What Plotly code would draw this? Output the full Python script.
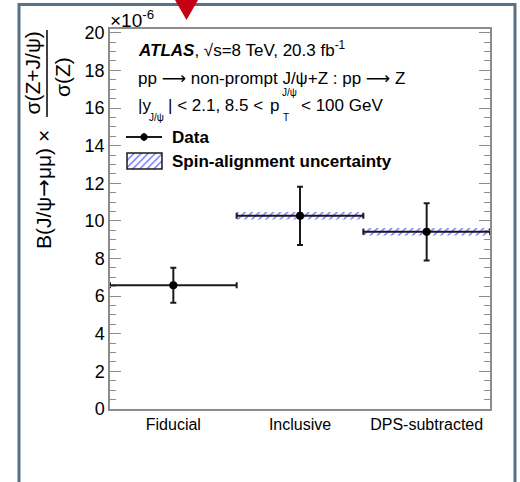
import plotly.graph_objects as go

# Measured ratio B(J/psi->mumu) x sigma(Z+J/psi)/sigma(Z), in units of 1e-6
categories = ["Fiducial", "Inclusive", "DPS-subtracted"]
ratio = [6.58, 10.27, 9.42]
total_err = [0.93, 1.55, 1.52]
# spin-alignment envelope (absent for the fiducial measurement)
spin_err = [0.0, 0.2, 0.2]
y_ticks = [0, 2, 4, 6, 8, 10, 12, 14, 16, 18, 20]

FONT = "Liberation Sans, Arial, Helvetica, sans-serif"
ARROW = '<span style="font-family:DejaVu Sans">→</span>'
LONG_ARROW = '<span style="font-family:DejaVu Sans">⟶</span>'
W, H = 520, 482
L, R, T, B = 110, 490, 29, 409
HATCH = "#6a6aff"


def px(x):
    return (x - L) / (R - L)


def py(y):
    return (B - y) / (B - T)


x_pos = list(range(len(categories)))
fig = go.Figure()

# hatched spin-alignment bands
band_idx = [i for i, e in enumerate(spin_err) if e > 0]
fig.add_trace(go.Bar(
    x=[x_pos[i] for i in band_idx],
    base=[ratio[i] - spin_err[i] for i in band_idx],
    y=[2 * spin_err[i] for i in band_idx],
    width=1.0,
    marker=dict(color="rgba(0,0,0,0)", line=dict(width=0),
                pattern=dict(shape="/", fgcolor=HATCH, size=5,
                             solidity=0.28, fillmode="replace")),
    showlegend=False, hoverinfo="skip",
))

# data points with bin-width horizontal bars and total uncertainty
fig.add_trace(go.Scatter(
    x=x_pos, y=ratio, mode="markers",
    marker=dict(color="black", size=8),
    error_x=dict(type="constant", value=0.5, color="#1a1a1a", thickness=2, width=3),
    error_y=dict(type="data", array=total_err, color="#1a1a1a", thickness=2, width=3),
    showlegend=False, cliponaxis=False,
))

# legend swatches on a pixel-space overlay axis
fig.add_trace(go.Scatter(
    x=[126, 162], y=[137, 137], mode="lines",
    line=dict(color="#1a1a1a", width=2),
    xaxis="x2", yaxis="y2", showlegend=False, hoverinfo="skip",
))
fig.add_trace(go.Scatter(
    x=[144], y=[137], mode="markers",
    marker=dict(color="black", size=7),
    error_y=dict(type="constant", value=4, color="#1a1a1a", thickness=2, width=0),
    xaxis="x2", yaxis="y2", showlegend=False, hoverinfo="skip",
))
fig.add_trace(go.Bar(
    x=[144.5], base=[153], y=[16], width=[35],
    marker=dict(color="rgba(0,0,0,0)", line=dict(width=1.5, color="#1a1a1a"),
                pattern=dict(shape="/", fgcolor=HATCH, size=5,
                             solidity=0.28, fillmode="replace")),
    xaxis="x2", yaxis="y2", showlegend=False, hoverinfo="skip",
))

annotations = []


def text(x, y, s, size=17, xanchor="left", yanchor="middle", angle=0):
    annotations.append(dict(
        x=px(x), y=py(y), xref="paper", yref="paper", text=s,
        showarrow=False, xanchor=xanchor, yanchor=yanchor, textangle=angle,
        font=dict(family=FONT, size=size, color="black"),
    ))


text(136, 49, "<b><i>ATLAS</i></b>, √s=8 TeV, 20.3 fb<sup>-1</sup>")
text(136, 78, f"pp {LONG_ARROW} non-prompt J/ψ+Z : pp {LONG_ARROW} Z")
text(136, 106, "|y")
text(147, 117, "J/ψ", size=10)
text(166, 106, "| < 2.1, 8.5 <")
text(268, 106, "p")
text(280, 93, "J/ψ", size=10)
text(281, 117, "T", size=10)
text(299, 106, "< 100 GeV")
text(170, 137, "<b>Data</b>")
text(170, 161, "<b>Spin-alignment uncertainty</b>")
text(108, 19, "×10<sup>-6</sup>", size=19)

# y-axis title built as a rotated fraction
text(44, 190, f"B(J/ψ{ARROW}μμ) ×", size=21, xanchor="center", angle=-90)
text(32, 73.5, "σ(Z+J/ψ)", size=21, xanchor="center", angle=-90)
text(63, 77, "σ(Z)", size=21, xanchor="center", angle=-90)

shapes = [
    # fraction bar of the y-axis title
    dict(type="line", xref="paper", yref="paper",
         x0=px(47), x1=px(47), y0=py(30), y1=py(117),
         line=dict(color="black", width=1.5)),
    # outer frame
    dict(type="rect", xref="paper", yref="paper",
         x0=px(19), x1=px(515), y0=py(4.5), y1=py(500),
         line=dict(color="#587386", width=3), layer="above"),
    # red marker at the top
    dict(type="path", xref="paper", yref="paper",
         path=f"M {px(175)} {py(0)} L {px(198)} {py(0)} L {px(186.5)} {py(20)} Z",
         fillcolor="#c40012", line=dict(width=0)),
]

fig.update_layout(
    width=W, height=H,
    margin=dict(l=L, r=W - R, t=T, b=H - B, pad=0),
    paper_bgcolor="white", plot_bgcolor="white",
    barmode="overlay", showlegend=False,
    font=dict(family=FONT, color="black"),
    annotations=annotations, shapes=shapes,
    xaxis=dict(
        range=[-0.5, 2.5], tickvals=x_pos, ticktext=categories,
        ticks="", showline=True, mirror=True, linecolor="#8c8c8c", linewidth=1.5,
        showgrid=False, zeroline=False, tickfont=dict(size=16, family=FONT),
    ),
    yaxis=dict(
        range=[0, 20.2], tickvals=y_ticks, ticks="inside", ticklen=11,
        tickcolor="#8c8c8c", tickwidth=1.2,
        minor=dict(dtick=0.5, ticks="inside", ticklen=6, tickcolor="#8c8c8c", tickwidth=1.2),
        showline=True, mirror="ticks", linecolor="#8c8c8c", linewidth=1.5,
        showgrid=False, zeroline=False, tickfont=dict(size=18, family=FONT),
    ),
    xaxis2=dict(overlaying="x", range=[L, R], visible=False),
    yaxis2=dict(overlaying="y", range=[B, T], visible=False),
)

fig.write_html("out.html")
